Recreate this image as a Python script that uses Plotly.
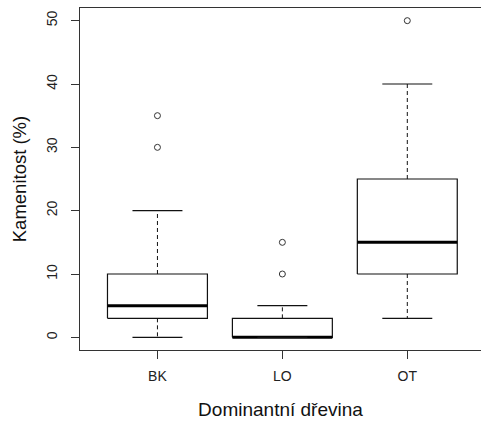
import plotly.graph_objects as go

categories = ["BK", "LO", "OT"]
lower_whisker = [0, 0, 3]
q1 = [3, 0, 10]
median = [5, 0, 15]
q3 = [10, 3, 25]
upper_whisker = [20, 5, 40]
outlier_group = ["BK", "BK", "LO", "LO", "OT"]
outlier_value = [30, 35, 10, 15, 50]
y_ticks = [0, 10, 20, 30, 40, 50]

box_half = 0.4
cap_half = 0.2
pos = {c: i + 1 for i, c in enumerate(categories)}

fig = go.Figure()
line_col = "#111111"

for i, c in enumerate(categories):
    x0 = pos[c]
    # box
    fig.add_trace(go.Scatter(
        x=[x0 - box_half, x0 + box_half, x0 + box_half, x0 - box_half, x0 - box_half],
        y=[q1[i], q1[i], q3[i], q3[i], q1[i]],
        mode="lines", line=dict(color=line_col, width=1.2), hoverinfo="skip"))
    # median
    fig.add_trace(go.Scatter(
        x=[x0 - box_half, x0 + box_half], y=[median[i], median[i]],
        mode="lines", line=dict(color="#000000", width=3), hoverinfo="skip"))
    # whiskers dashed
    fig.add_trace(go.Scatter(
        x=[x0, x0, None, x0, x0],
        y=[q3[i], upper_whisker[i], None, q1[i], lower_whisker[i]],
        mode="lines", line=dict(color=line_col, width=1, dash="4px,3px"), hoverinfo="skip"))
    # caps
    fig.add_trace(go.Scatter(
        x=[x0 - cap_half, x0 + cap_half, None, x0 - cap_half, x0 + cap_half],
        y=[upper_whisker[i], upper_whisker[i], None, lower_whisker[i], lower_whisker[i]],
        mode="lines", line=dict(color=line_col, width=1.2), hoverinfo="skip"))

fig.add_trace(go.Scatter(
    x=[pos[g] for g in outlier_group], y=outlier_value,
    mode="markers",
    marker=dict(symbol="circle-open", size=6, color="#333333", line=dict(width=1)),
    hoverinfo="skip"))

font_family = "Liberation Sans, Arial, sans-serif"

fig.update_layout(
    width=481, height=424,
    margin=dict(l=80, r=0, t=8, b=74),
    paper_bgcolor="white", plot_bgcolor="white",
    showlegend=False,
    font=dict(family=font_family, color="#222222", size=14),
    xaxis=dict(
        range=[0.38, 3.59],
        tickvals=[1, 2, 3], ticktext=categories,
        showgrid=False, zeroline=False,
        showline=True, linecolor="#333333", linewidth=1, mirror=True,
        ticks="outside", ticklen=8, tickcolor="#333333", tickwidth=1,
        tickfont=dict(size=14, color="#222222"),
        ticklabelstandoff=5,
        title=dict(text="Dominantní dřevina", font=dict(size=19, color="#111111"), standoff=19),
    ),
    yaxis=dict(
        range=[-2, 52],
        tickvals=y_ticks, ticktext=[str(v) for v in y_ticks],
        showgrid=False, zeroline=False,
        showline=True, linecolor="#333333", linewidth=1, mirror=False,
        ticks="outside", ticklen=8, tickcolor="#333333", tickwidth=1,
        tickangle=-90,
        tickfont=dict(size=14, color="#222222"),
        ticklabelstandoff=8,
        title=dict(text="Kamenitost (%)", font=dict(size=18.5, color="#111111"), standoff=12),
    ),
)

fig.write_html("out.html")
